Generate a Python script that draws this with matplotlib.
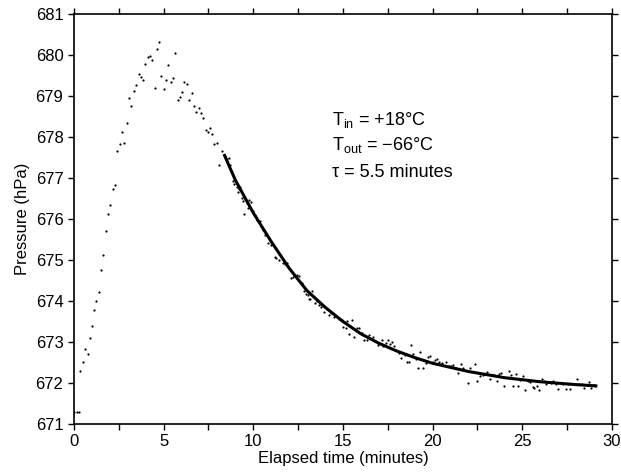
import numpy as np
import matplotlib.pyplot as plt

plt.rcParams['font.family'] = ['Liberation Sans', 'DejaVu Sans']
plt.rcParams['mathtext.fontset'] = 'custom'
plt.rcParams['mathtext.rm'] = 'Liberation Sans'

# measured pressure (dots): elapsed time (min), pressure (hPa)
t_obs = [0.0, 0.15, 0.26, 0.35, 0.48, 0.61, 0.76, 0.87, 1.00, 1.13, 1.25, 1.39,
         1.51, 1.64, 1.77, 1.91, 2.03, 2.16, 2.29, 2.42, 2.55, 2.68, 2.79, 2.96,
         3.07, 3.20, 3.33, 3.48, 3.61, 3.72, 3.87, 3.98, 4.11, 4.24, 4.37, 4.52,
         4.63, 4.74, 4.87, 5.02, 5.13, 5.26, 5.39, 5.54, 5.65, 5.78, 5.91, 6.04,
         6.15, 6.30, 6.43, 6.56, 6.69, 6.82, 6.95, 7.08, 7.21, 7.34, 7.47, 7.59,
         7.71, 7.83, 7.98, 8.11, 8.24, 8.42, 8.53, 8.64, 8.70, 8.89, 8.94, 9.07,
         9.13, 9.18, 9.26, 9.37, 9.44, 9.50, 9.54, 9.63, 9.69, 9.78, 9.87, 10.00,
         10.11, 10.22, 10.37, 10.45, 10.56, 10.67, 10.84, 10.97, 11.19, 11.27,
         11.45, 11.67, 11.79, 11.86, 12.12, 12.23, 12.46, 12.53, 12.70, 12.83,
         12.92, 13.03, 13.12, 13.18, 13.26, 13.42, 13.55, 13.68, 13.80, 13.95,
         14.10, 14.22, 14.36, 14.50, 14.65, 14.80, 14.93, 15.02, 15.15, 15.24,
         15.36, 15.50, 15.64, 15.77, 15.91, 16.04, 16.19, 16.32, 16.47, 16.66,
         16.79, 16.97, 17.16, 17.25, 17.38, 17.49, 17.62, 17.74, 17.87, 18.11,
         18.24, 18.46, 18.57, 18.68, 18.80, 18.93, 19.07, 19.20, 19.32, 19.45,
         19.61, 19.76, 19.85, 20.00, 20.15, 20.23, 20.38, 20.52, 20.77, 20.91,
         21.05, 21.16, 21.30, 21.44, 21.57, 21.71, 21.97, 22.09, 22.38, 22.49,
         22.64, 22.79, 23.02, 23.18, 23.31, 23.44, 23.57, 23.70, 23.83, 23.98,
         24.24, 24.37, 24.50, 24.63, 24.74, 24.89, 25.04, 25.17, 25.30, 25.43,
         25.58, 25.67, 25.80, 25.95, 26.08, 26.19, 26.34, 26.47, 26.60, 26.73,
         26.88, 27.01, 27.14, 27.29, 27.42, 27.53, 27.66, 27.81, 28.07, 28.18,
         28.31, 28.44, 28.59, 28.72, 28.83, 28.97, 29.06]
p_obs = [671.30, 671.30, 671.30, 672.30, 672.50, 672.84, 672.70, 673.09, 673.40,
         673.77, 673.99, 674.23, 674.75, 675.11, 675.70, 676.13, 676.33, 676.73,
         676.83, 677.66, 677.82, 678.13, 677.85, 678.33, 678.94, 678.75, 679.13,
         679.26, 679.54, 679.46, 679.38, 679.77, 679.95, 679.98, 679.87, 679.20,
         680.14, 680.32, 679.49, 679.16, 679.38, 679.76, 679.34, 679.45, 680.04,
         678.90, 678.98, 679.09, 679.33, 679.29, 678.90, 679.07, 678.76, 678.62,
         678.70, 678.58, 678.46, 678.18, 678.13, 678.23, 678.07, 677.82, 677.85,
         677.32, 677.66, 677.53, 677.47, 677.49, 677.32, 676.93, 676.86, 676.77,
         676.67, 676.72, 676.78, 676.50, 676.44, 676.11, 676.49, 676.38, 676.28,
         676.46, 676.41, 676.20, 676.10, 675.98, 675.96, 675.83, 675.73, 675.62,
         675.41, 675.36, 675.08, 675.05, 675.00, 674.93, 674.90, 674.92, 674.55,
         674.58, 674.63, 674.62, 674.43, 674.24, 674.16, 674.15, 674.05, 674.04,
         674.24, 673.95, 674.00, 673.90, 673.85, 673.74, 673.80, 673.66, 673.70,
         673.62, 673.60, 673.57, 673.54, 673.37, 673.33, 673.50, 673.19, 673.54,
         673.13, 673.33, 673.35, 673.23, 673.05, 673.05, 673.17, 673.13, 673.02,
         672.93, 673.05, 672.91, 672.97, 673.06, 672.95, 673.00, 672.90, 672.74,
         672.60, 672.68, 672.50, 672.50, 672.93, 672.71, 672.58, 672.37, 672.76,
         672.37, 672.48, 672.64, 672.66, 672.52, 672.56, 672.58, 672.50, 672.48,
         672.50, 672.41, 672.41, 672.44, 672.36, 672.24, 672.46, 672.36, 672.01,
         672.36, 672.46, 672.06, 672.17, 672.20, 672.28, 672.09, 672.20, 672.20,
         672.05, 672.22, 672.24, 671.93, 672.30, 672.20, 671.93, 672.22, 671.93,
         672.07, 672.17, 671.84, 672.04, 672.03, 671.91, 671.87, 671.93, 671.83,
         672.09, 672.05, 671.97, 672.03, 672.01, 672.06, 671.97, 671.85, 672.01,
         671.97, 671.85, 671.97, 671.85, 671.97, 672.09, 671.97, 671.97, 671.89,
         671.95, 672.02, 671.87, 671.95, 671.93]

# fitted decay curve
t_fit = [8.4, 9, 10, 11, 12, 13, 14, 15, 16, 17, 18, 19, 20, 22, 24, 26, 28, 29.1]
p_fit = [677.55, 676.95, 676.15, 675.45, 674.80, 674.25, 673.85, 673.50, 673.20,
         672.97, 672.78, 672.62, 672.48, 672.28, 672.13, 672.03, 671.96, 671.93]

fig = plt.figure(figsize=(6.21, 4.74), dpi=100)
ax = fig.add_axes([0.119, 0.1055, 0.8665, 0.865])

ax.plot(t_obs, p_obs, 'o', color='black', ms=1.6, mew=0)
ax.plot(t_fit, p_fit, '-', color='black', lw=2.2)

ax.set_xlim(0, 30)
ax.set_ylim(671, 681)
ax.set_xticks(np.arange(0, 31, 5))
ax.set_xticks(np.arange(0, 30.1, 2.5), minor=True)
ax.set_yticks(np.arange(671, 682, 1))
ax.tick_params(which='both', direction='out', top=True, right=True,
               labelsize=12, length=4, width=1)
ax.tick_params(which='minor', length=4)
for s in ax.spines.values():
    s.set_linewidth(1.2)

ax.set_xlabel("Elapsed time (minutes)", fontsize=12, labelpad=1)
ax.set_ylabel("Pressure (hPa)", fontsize=12, labelpad=4)

ax.text(14.4, 678.42, r'T$_{\rm in}$ = +18°C', fontsize=13, va='center')
ax.text(14.4, 677.8, r'T$_{\rm out}$ = −66°C', fontsize=13, va='center')
ax.text(14.4, 677.14, 'τ = 5.5 minutes', fontsize=13, va='center')

fig.savefig('out.png', dpi=100)
